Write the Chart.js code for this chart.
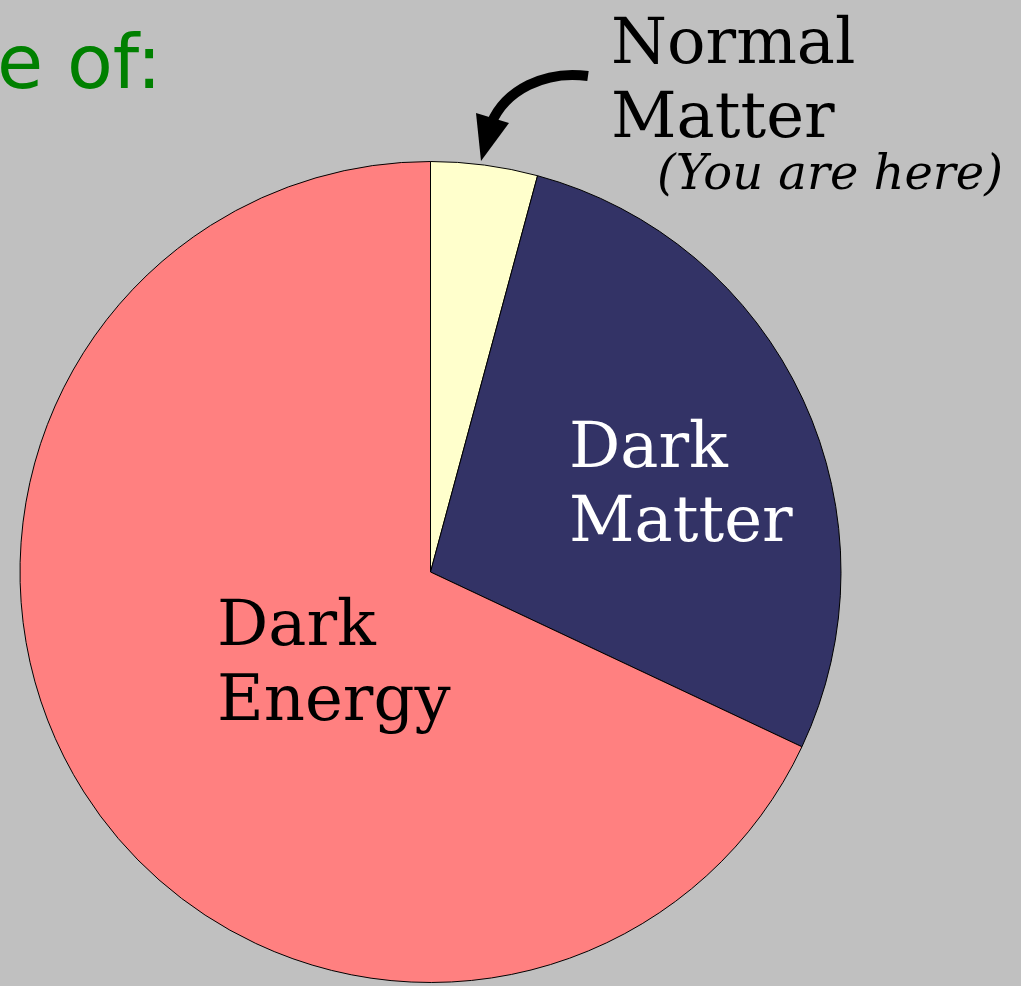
<!DOCTYPE html>
<html>
<head>
<meta charset="utf-8">
<script src="https://cdn.jsdelivr.net/npm/chart.js@4"></script>
<style>
  html, body { margin: 0; padding: 0; background: #c0c0c0; overflow: hidden; }
  canvas { display: block; }
</style>
</head>
<body>
<canvas id="universePie" width="1021" height="986"></canvas>
<script>
// composition of the universe, percent
const categories = ["Normal Matter", "Dark Matter", "Dark Energy"];
const shares = [4.2, 27.8, 68];
const sliceColors = ["#ffffcc", "#333366", "#ff8080"];

// text drawn over / around the pie
const annotations = [
  { lines: ["e of:"], x: -3, y: 88, font: "75px 'DejaVu Sans'", color: "#008000", lh: 0 },
  { lines: ["Normal", "Matter"], x: 611, y: 63, font: "64px 'DejaVu Serif'", color: "#000", lh: 74 },
  { lines: ["(You are here)"], x: 657, y: 189, font: "italic 48px 'DejaVu Serif'", color: "#000", lh: 0 },
  { lines: ["Dark", "Matter"], x: 569, y: 467, font: "64px 'DejaVu Serif'", color: "#fff", lh: 74 },
  { lines: ["Dark", "Energy"], x: 217, y: 645, font: "64px 'DejaVu Serif'", color: "#000", lh: 75 },
];

const labelsPlugin = {
  id: "labels",
  afterDraw(chart) {
    const ctx = chart.ctx;
    ctx.save();
    ctx.textBaseline = "alphabetic";
    ctx.textAlign = "left";
    annotations.forEach((a) => {
      ctx.font = a.font;
      ctx.fillStyle = a.color;
      a.lines.forEach((t, i) => ctx.fillText(t, a.x, a.y + i * a.lh));
    });

    // curved arrow pointing at the normal matter slice
    ctx.strokeStyle = "#000";
    ctx.fillStyle = "#000";
    ctx.lineWidth = 10;
    ctx.beginPath();
    ctx.moveTo(588, 76);
    ctx.bezierCurveTo(545, 70, 505, 90, 491, 124);
    ctx.stroke();
    ctx.beginPath();
    ctx.moveTo(476, 113);
    ctx.lineTo(509, 123);
    ctx.lineTo(481, 161);
    ctx.closePath();
    ctx.fill();
    ctx.restore();
  },
};

new Chart(document.getElementById("universePie").getContext("2d"), {
  type: "pie",
  data: {
    labels: categories,
    datasets: [
      {
        data: shares,
        backgroundColor: sliceColors,
        borderColor: "#000",
        borderWidth: 1,
      },
    ],
  },
  options: {
    responsive: false,
    animation: false,
    layout: { padding: { left: 19, right: 179, top: 161, bottom: 3 } },
    plugins: {
      legend: { display: false },
      tooltip: { enabled: false },
      title: { display: false },
    },
  },
  plugins: [labelsPlugin],
});
</script>
</body>
</html>
